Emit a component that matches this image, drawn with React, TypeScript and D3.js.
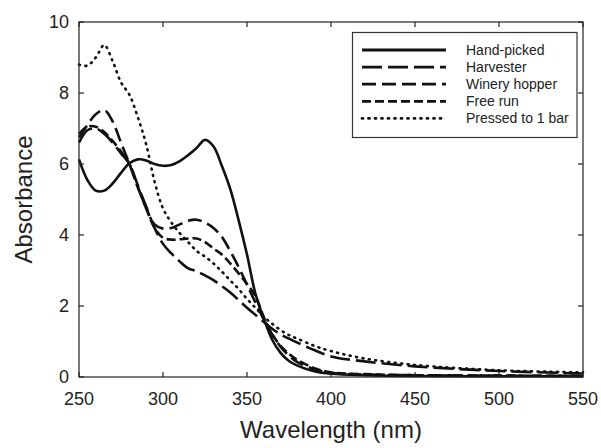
import React, { useRef, useEffect } from 'react';
import * as d3 from 'd3';

// wavelength grid (nm)
const wavelengths = [250, 255, 260, 265, 270, 275, 280, 285, 290, 295, 300, 305, 310, 315, 320, 325, 330, 335, 340, 345, 350, 355, 360, 365, 370, 375, 380, 390, 400, 420, 450, 500, 550];

const handPicked = [6.13, 5.55, 5.25, 5.25, 5.45, 5.75, 6.02, 6.13, 6.1, 6.0, 5.95, 5.97, 6.08, 6.25, 6.45, 6.68, 6.5, 5.95, 5.3, 4.42, 3.45, 2.35, 1.65, 1.05, 0.68, 0.45, 0.32, 0.16, 0.09, 0.05, 0.03, 0.02, 0.02];
const harvester = [6.6, 6.95, 7.0, 6.85, 6.6, 6.3, 6.0, 5.4, 4.8, 4.2, 3.75, 3.48, 3.25, 3.06, 2.98, 2.86, 2.73, 2.56, 2.38, 2.17, 1.95, 1.75, 1.55, 1.36, 1.2, 1.08, 0.97, 0.76, 0.58, 0.44, 0.3, 0.17, 0.1];
const wineryHopper = [6.75, 7.1, 7.4, 7.52, 7.2, 6.6, 6.0, 5.35, 4.75, 4.3, 4.18, 4.2, 4.3, 4.4, 4.43, 4.35, 4.2, 3.95, 3.55, 3.1, 2.6, 2.1, 1.62, 1.2, 0.85, 0.6, 0.42, 0.22, 0.12, 0.07, 0.05, 0.04, 0.03];
const freeRun = [6.85, 7.05, 7.05, 6.9, 6.65, 6.35, 6.0, 5.35, 4.75, 4.2, 3.92, 3.87, 3.88, 3.9, 3.9, 3.8, 3.62, 3.45, 3.2, 2.92, 2.62, 2.28, 1.68, 1.2, 0.88, 0.65, 0.48, 0.25, 0.13, 0.08, 0.05, 0.04, 0.03];
const pressed = [8.8, 8.77, 9.0, 9.35, 8.9, 8.3, 7.95, 7.32, 6.55, 5.5, 4.75, 4.35, 4.05, 3.8, 3.55, 3.39, 3.2, 2.97, 2.72, 2.48, 2.2, 1.95, 1.7, 1.5, 1.32, 1.18, 1.08, 0.88, 0.73, 0.52, 0.34, 0.19, 0.13];

const seriesNames = ['Hand-picked', 'Harvester', 'Winery hopper', 'Free run', 'Pressed to 1 bar'];
const seriesValues = [handPicked, harvester, wineryHopper, freeRun, pressed];
const dashes = ['none', '20 6', '14 6', '9 4', '1 5.5'];

const xTicks = [250, 300, 350, 400, 450, 500, 550];
const yTicks = [0, 2, 4, 6, 8, 10];

export default function App() {
  const ref = useRef<SVGSVGElement>(null);

  useEffect(() => {
    const svg = d3.select(ref.current);
    svg.selectAll('*').remove();

    const left = 79, right = 583, top = 22, bottom = 377;
    const x = d3.scaleLinear().domain([250, 550]).range([left, right]);
    const y = d3.scaleLinear().domain([0, 10]).range([bottom, top]);
    const font = 'Liberation Sans, Arial, sans-serif';
    const ink = '#111';

    const line = d3.line<number>()
      .x((_, i) => x(wavelengths[i]))
      .y(d => y(d))
      .curve(d3.curveCatmullRom.alpha(0.5));

    const plot = svg.append('g');
    seriesValues.forEach((vals, k) => {
      plot.append('path')
        .attr('d', line(vals))
        .attr('fill', 'none')
        .attr('stroke', ink)
        .attr('stroke-width', k === 4 ? 2.6 : 2.6)
        .attr('stroke-linecap', k === 4 ? 'round' : 'butt')
        .attr('stroke-dasharray', dashes[k]);
    });

    // frame
    svg.append('rect')
      .attr('x', left).attr('y', top)
      .attr('width', right - left).attr('height', bottom - top)
      .attr('fill', 'none').attr('stroke', '#222').attr('stroke-width', 1.2);

    // inward ticks on all four sides
    const tl = 5;
    const ax = svg.append('g').attr('stroke', '#222').attr('stroke-width', 1.2);
    xTicks.forEach(t => {
      ax.append('line').attr('x1', x(t)).attr('x2', x(t)).attr('y1', bottom).attr('y2', bottom - tl);
      ax.append('line').attr('x1', x(t)).attr('x2', x(t)).attr('y1', top).attr('y2', top + tl);
    });
    yTicks.forEach(t => {
      ax.append('line').attr('x1', left).attr('x2', left + tl).attr('y1', y(t)).attr('y2', y(t));
      ax.append('line').attr('x1', right).attr('x2', right - tl).attr('y1', y(t)).attr('y2', y(t));
    });

    svg.append('g').selectAll('text').data(xTicks).enter().append('text')
      .attr('x', d => x(d)).attr('y', bottom + 28)
      .attr('text-anchor', 'middle')
      .style('font-family', font).style('font-size', '18px').attr('fill', '#222')
      .text(d => d);

    svg.append('g').selectAll('text').data(yTicks).enter().append('text')
      .attr('x', left - 10).attr('y', d => y(d) + 6)
      .attr('text-anchor', 'end')
      .style('font-family', font).style('font-size', '18px').attr('fill', '#222')
      .text(d => d);

    svg.append('text')
      .attr('x', (left + right) / 2).attr('y', 438)
      .attr('text-anchor', 'middle')
      .style('font-family', font).style('font-size', '24px').attr('fill', '#222')
      .text('Wavelength (nm)');

    svg.append('text')
      .attr('transform', `translate(32, ${(top + bottom) / 2}) rotate(-90)`)
      .attr('text-anchor', 'middle')
      .style('font-family', font).style('font-size', '24px').attr('fill', '#222')
      .text('Absorbance');

    // legend
    const lg = svg.append('g');
    lg.append('rect')
      .attr('x', 352.5).attr('y', 32.5).attr('width', 224.5).attr('height', 105)
      .attr('fill', 'white').attr('stroke', '#333').attr('stroke-width', 1.2);
    seriesNames.forEach((name, k) => {
      const ry = 50 + k * 17.1;
      lg.append('line')
        .attr('x1', 362).attr('x2', 446).attr('y1', ry).attr('y2', ry)
        .attr('stroke', ink).attr('stroke-width', 2.8)
        .attr('stroke-linecap', k === 4 ? 'round' : 'butt')
        .attr('stroke-dasharray', dashes[k]);
      lg.append('text')
        .attr('x', 466).attr('y', ry + 5)
        .style('font-family', font).style('font-size', '14px').attr('fill', '#222')
        .text(name);
    });
  }, []);

  return (
    <svg ref={ref} width={601} height={448}
      style={{ position: 'absolute', left: 0, top: 0, background: 'white' }} />
  );
}
